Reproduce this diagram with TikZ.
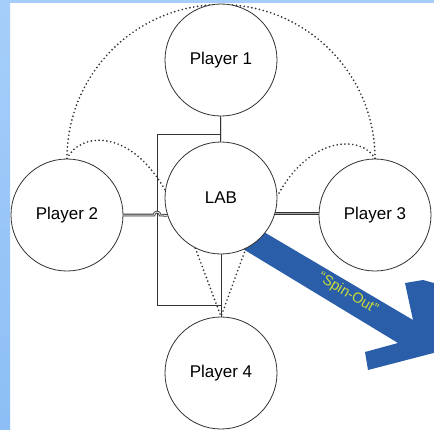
\documentclass[tikz,border=0pt]{standalone}
\usepackage{fontspec}
\setmainfont{Liberation Sans}
\usetikzlibrary{calc,backgrounds}
\definecolor{arrowblue}{HTML}{2A5EA8}
\definecolor{spintext}{HTML}{C9DB3A}
\definecolor{bandtop}{HTML}{A6CEFA}
\definecolor{bandbottom}{HTML}{8CBEF5}
\definecolor{ink}{HTML}{333333}

\begin{document}
\begin{tikzpicture}[x=1pt,y=-1pt,
  player/.style={circle, draw=ink, line width=0.8pt, fill=white,
    minimum size=112pt, inner sep=0pt, font=\fontsize{17}{20}\selectfont},
  link/.style={draw=ink, line width=0.9pt},
  twin/.style={draw=ink, line width=0.8pt, double=white!70!gray, double distance=1pt},
  dotlink/.style={draw=ink, line width=1.9pt, line cap=round, dash pattern=on 0pt off 3.9pt},
  spin/.style={rotate=-31, text=spintext, font=\fontsize{14.5}{16}\selectfont, inner sep=0pt},
]
\useasboundingbox (0,0) rectangle (434,429);

% the five parties
\node[player] (p1)  at (221,60)  {Player 1};
\node[player] (lab) at (221,198) {LAB};
\node[player] (p2)  at (67,215)  {Player 2};
\node[player] (p3)  at (375,215) {Player 3};
\node[player] (p4)  at (221,373) {Player 4};

% label on the spin-out arrow
\node[spin] (spinlabel) at (348,294) {“Spin-Out”};

% junction points of the bus around the lab
\coordinate (j1) at (221,134);
\coordinate (c1) at (157,134);
\coordinate (c2) at (157,305);
\coordinate (j2) at (221,305);
\coordinate (hop) at (154,215);

% direct links between the circles
\draw[twin] (p1.south) -- (lab.north);
\draw[twin] (p2.east) -- (hop) arc[start angle=180, end angle=0, radius=3pt] -- (lab.198);
\draw[twin, double=gray!70, line width=0.9pt, double distance=0.9pt]
  (lab.344) -- (p3.west |- lab.344);

\begin{scope}[on background layer]
  % page with its blue frame
  \fill[white] (0,0) rectangle (434,429);
  \shade[top color=bandtop, bottom color=bandbottom] (0,0) rectangle (10,429);
  \fill[bandtop] (10,0) rectangle (434,3);

  % spin-out arrow leaving the lab
  \fill[arrowblue] (230,212) -- (413,320) -- (405,283) -- (423,280)
    -- (445,286) -- (445,350) -- (368,370) -- (365,352) -- (398,343)
    -- (215,232) -- cycle;

  % bus from player 1 round to player 4
  \draw[link] (lab.south) -- (p4.north);
  \draw[link] (j1) -- (c1) -- (c2) -- (j2);

  % dotted links
  \draw[dotlink] (p2.north) arc[start angle=180, end angle=0, radius=154pt];
  \draw[dotlink] (p2.north) .. controls (80,132) and (130,128) .. (lab.172);
  \draw[dotlink] (p3.north) .. controls (362,135) and (310,135) .. (lab.2);
  \draw[dotlink] (lab.243) -- (p4.north);
  \draw[dotlink] (lab.296) -- (p4.north);
\end{scope}
\end{tikzpicture}
\end{document}
